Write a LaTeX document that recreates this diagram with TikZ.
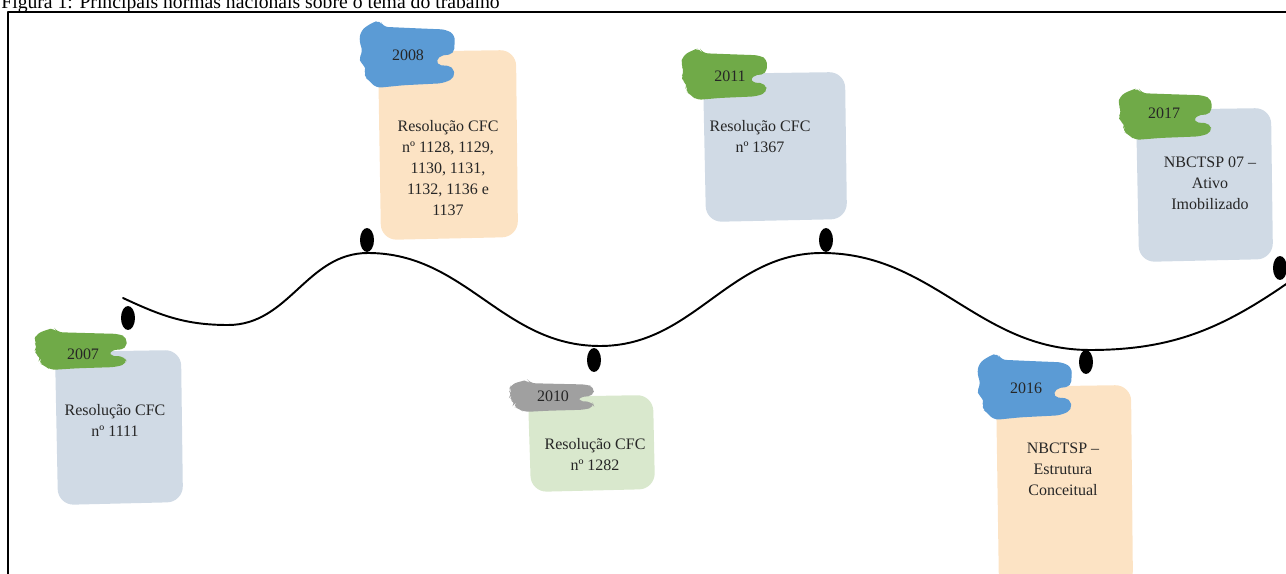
\documentclass[tikz,border=0pt]{standalone}
\usepackage{fontspec}
\setmainfont{Liberation Serif}
\usetikzlibrary{shapes.geometric}
\definecolor{boxgray}{RGB}{208,218,229}
\definecolor{boxpeach}{RGB}{252,227,196}
\definecolor{boxgreen}{RGB}{217,232,205}
\definecolor{tagblue}{RGB}{91,155,213}
\definecolor{taggreen}{RGB}{112,170,72}
\definecolor{taggray}{RGB}{160,160,160}
\begin{document}
\begin{tikzpicture}[x=0.02cm, y=-0.02cm, font=\fontsize{9.1}{11.9}\selectfont, line cap=round, line join=round,
	norm/.style={align=center, text=black!85, inner sep=0pt, anchor=north},
	year/.style={text=black!85, inner sep=0pt},
	dot/.style={ellipse, fill=black, inner sep=0pt, minimum width=0.28cm, minimum height=0.48cm}]
	\useasboundingbox (0,0) rectangle (1286,574);
	% brush stroke behind the year: x, y, width, height, colour
	\def\brush#1#2#3#4#5{\fill[#5, rounded corners=3pt, shift={(#1,#2)}, xscale=#3, yscale=#4]
		(0.03,0.15)--(0.14,0.04)--(0.22,0)--(0.25,0.1)--(0.55,0.12)--(0.88,0.14)--(0.97,0.22)--(0.96,0.5)
		--(0.8,0.53)--(0.78,0.66)--(0.95,0.68)--(0.97,0.85)--(0.85,0.93)--(0.45,0.96)--(0.18,1)--(0.12,0.9)
		--(0.05,0.82)--(0.09,0.7)--(0,0.6)--(0.05,0.45)--(0.01,0.32)--cycle;}
	% card: left, top, right, bottom, colour
	\def\card#1#2#3#4#5{\fill[#5, rounded corners=9pt] (#1,#2+2)--(#3-2,#2)--(#3,#4-3)--(#1+3,#4)--cycle;}
	\node[anchor=base west, inner sep=0pt, font=\fontsize{11.2}{13}\selectfont] (title) at (1,8.5) {Figura 1: Principais normas nacionais sobre o tema do trabalho};
	\draw[line width=1.2pt] (8,12) rectangle (1320,600);
	% linha do tempo
	\draw[line width=1.1pt] (123,298) to[out=-25,in=180] (228,325) to[out=0,in=180] (368,253)
		to[out=0,in=180] (600,346) to[out=0,in=180] (822,253) to[out=0,in=180] (1090,350)
		to[out=0,in=215] (1292,280);
	\node[dot] (d07) at (128,318) {};
	\node[dot] (d08) at (367,240) {};
	\node[dot] (d10) at (594,360) {};
	\node[dot] (d11) at (826,240) {};
	\node[dot] (d16) at (1086,362) {};
	\node[dot] (d17) at (1280,268) {};
	% 2007
	\card{55}{350}{183}{505}{boxgray}
	\brush{33}{328}{97}{42}{taggreen}
	\node[year] (y07) at (83,354) {2007};
	\node[norm] (n07) at (115,404) {Resolução CFC\\nº 1111};
	% 2008
	\card{378}{50}{518}{240}{boxpeach}
	\brush{358}{20}{100}{68}{tagblue}
	\node[year] (y08) at (408,55) {2008};
	\node[norm] (n08) at (448,120) {Resolução CFC\\nº 1128, 1129,\\1130, 1131,\\1132, 1136 e\\1137};
	% 2010
	\card{528}{395}{655}{492}{boxgreen}
	\brush{508}{380}{89}{32}{taggray}
	\node[year] (y10) at (553,396) {2010};
	\node[norm] (n10) at (595,438) {Resolução CFC\\nº 1282};
	% 2011
	\card{703}{72}{847}{222}{boxgray}
	\brush{680}{48}{90}{52}{taggreen}
	\node[year] (y11) at (730,76) {2011};
	\node[norm] (n11) at (760,120) {Resolução CFC\\nº 1367};
	% 2016
	\card{996}{385}{1133}{590}{boxpeach}
	\brush{976}{353}{99}{67}{tagblue}
	\node[year] (y16) at (1026,388) {2016};
	\node[norm] (n16) at (1063,443) {NBCTSP –\\Estrutura\\Conceitual};
	% 2017
	\card{1136}{108}{1273}{262}{boxgray}
	\brush{1117}{88}{98}{52}{taggreen}
	\node[year] (y17) at (1164,113) {2017};
	\node[norm] (n17) at (1210,157) {NBCTSP 07 –\\Ativo\\Imobilizado};
\end{tikzpicture}
\end{document}
